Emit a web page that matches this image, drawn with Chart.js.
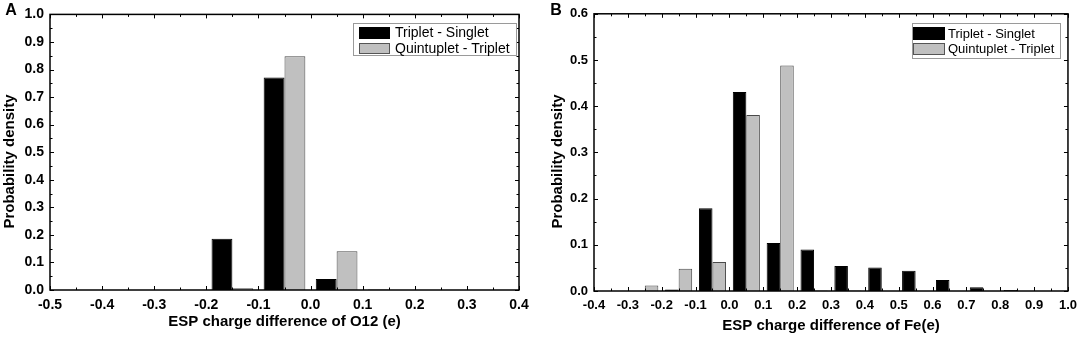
<!DOCTYPE html>
<html><head><meta charset="utf-8">
<script src="https://cdn.jsdelivr.net/npm/chart.js@4.4.0/dist/chart.umd.min.js"></script>
<style>
html,body{margin:0;padding:0;background:#fff;}
#wrap{position:relative;width:1084px;height:338px;overflow:hidden;background:#fff;}
canvas{position:absolute;top:0;}
#ca{left:0;} #cb{left:544px;}
</style></head><body>
<div id="wrap"><canvas id="ca" width="540" height="338"></canvas><canvas id="cb" width="540" height="338"></canvas></div>
<script>
// ---- Panel A data ----
const binsA = [-0.45, -0.35, -0.25, -0.15, -0.05, 0.05, 0.15, 0.25, 0.35];
const tripletSingletA = [0, 0, 0, 0.186, 0.771, 0.040, 0.002, 0, 0];
const quintupletTripletA = [0, 0, 0, 0.006, 0.848, 0.141, 0, 0, 0];
const xTicksA = ['-0.5', '-0.4', '-0.3', '-0.2', '-0.1', '0.0', '0.1', '0.2', '0.3', '0.4'];
const yTicksA = ['0.0', '0.1', '0.2', '0.3', '0.4', '0.5', '0.6', '0.7', '0.8', '0.9', '1.0'];

// ---- Panel B data ----
const binsB = [-0.35, -0.25, -0.15, -0.05, 0.05, 0.15, 0.25, 0.35, 0.45, 0.55, 0.65, 0.75, 0.85, 0.95];
const tripletSingletB = [0, 0, 0.003, 0.179, 0.431, 0.104, 0.090, 0.054, 0.051, 0.044, 0.024, 0.008, 0.002, 0];
const quintupletTripletB = [0, 0.012, 0.048, 0.063, 0.381, 0.488, 0.001, 0.001, 0, 0, 0, 0, 0, 0];
const xTicksB = ['-0.4', '-0.3', '-0.2', '-0.1', '0.0', '0.1', '0.2', '0.3', '0.4', '0.5', '0.6', '0.7', '0.8', '0.9', '1.0'];
const yTicksB = ['0.0', '0.1', '0.2', '0.3', '0.4', '0.5', '0.6'];

const seriesNames = ['Triplet - Singlet', 'Quintuplet - Triplet'];
const FAM = 'Arial, "Liberation Sans", Helvetica, sans-serif';

function makeChart(id, c) {
  const xv = c.xTicks.map(parseFloat);
  const yv = c.yTicks.map(parseFloat);
  const g = c.geom;
  const framePlugin = {
    id: 'frame' + id,
    afterDatasetsDraw(chart) {
      const ctx = chart.ctx;
      const {left, right, top, bottom} = chart.chartArea;
      const xs = chart.scales.x, ys = chart.scales.y;
      ctx.save();
      ctx.strokeStyle = '#000';
      ctx.lineWidth = 1.5;
      ctx.strokeRect(left, top, right - left, bottom - top);
      ctx.lineWidth = 1;
      ctx.beginPath();
      const maj = 4, mnr = 2.5;
      xv.forEach((v, i) => {
        const p = Math.round(xs.getPixelForValue(v)) + 0.5;
        ctx.moveTo(p, bottom); ctx.lineTo(p, bottom - maj);
        ctx.moveTo(p, top); ctx.lineTo(p, top + maj);
        if (i < xv.length - 1) {
          const q = Math.round(xs.getPixelForValue((v + xv[i + 1]) / 2)) + 0.5;
          ctx.moveTo(q, bottom); ctx.lineTo(q, bottom - mnr);
          ctx.moveTo(q, top); ctx.lineTo(q, top + mnr);
        }
      });
      yv.forEach((v, i) => {
        const p = Math.round(ys.getPixelForValue(v)) + 0.5;
        ctx.moveTo(left, p); ctx.lineTo(left + maj, p);
        ctx.moveTo(right, p); ctx.lineTo(right - maj, p);
        if (i < yv.length - 1) {
          const q = Math.round(ys.getPixelForValue((v + yv[i + 1]) / 2)) + 0.5;
          ctx.moveTo(left, q); ctx.lineTo(left + mnr, q);
          ctx.moveTo(right, q); ctx.lineTo(right - mnr, q);
        }
      });
      ctx.stroke();

      // legend
      const L = c.legend;
      ctx.font = L.font + 'px ' + FAM;
      const tw = Math.max(...seriesNames.map(s => ctx.measureText(s).width));
      const bw = Math.max(L.w, L.textX + tw + 2 - L.x);
      ctx.fillStyle = '#fff';
      ctx.fillRect(L.x, L.y, bw, L.h);
      ctx.strokeStyle = '#9a9a9a';
      ctx.lineWidth = 1;
      ctx.strokeRect(L.x + 0.5, L.y + 0.5, bw, L.h);
      const fills = ['#000', '#c0c0c0'], strokes = ['#000', '#555'];
      L.rows.forEach((r, i) => {
        ctx.fillStyle = fills[i];
        ctx.fillRect(L.sx, r.y, L.sw, r.h);
        ctx.strokeStyle = strokes[i];
        ctx.strokeRect(L.sx + 0.5, r.y + 0.5, L.sw - 1, r.h - 1);
        ctx.fillStyle = '#000';
        ctx.textBaseline = 'middle';
        ctx.textAlign = 'left';
        ctx.fillText(seriesNames[i], L.textX, r.y + r.h / 2 + 0.5);
      });

      // y title
      ctx.save();
      ctx.translate(g.yTitleX, g.yTitleY);
      ctx.rotate(-Math.PI / 2);
      ctx.font = 'bold 15px ' + FAM;
      ctx.textAlign = 'center';
      ctx.textBaseline = 'middle';
      ctx.fillStyle = '#000';
      ctx.fillText(c.yTitle, 0, 0);
      ctx.restore();

      // panel letter
      ctx.font = 'bold 16px ' + FAM;
      ctx.textAlign = 'center';
      ctx.textBaseline = 'middle';
      ctx.fillStyle = '#000';
      ctx.fillText(c.letter, g.letterX, g.letterY);
      ctx.restore();
    }
  };

  return new Chart(document.getElementById(id), {
    type: 'bar',
    data: {
      datasets: [
        {label: seriesNames[0], data: c.bins.map((x, i) => ({x: x, y: c.s1[i]})),
         backgroundColor: '#000', borderColor: '#000', borderWidth: 1},
        {label: seriesNames[1], data: c.bins.map((x, i) => ({x: x, y: c.s2[i]})),
         backgroundColor: '#c0c0c0', borderColor: '#4a4a4a', borderWidth: 1}
      ]
    },
    options: {
      responsive: false, animation: false, devicePixelRatio: 1,
      layout: {padding: {top: g.top, right: g.right, left: 0, bottom: 0}},
      datasets: {bar: {categoryPercentage: 0.8, barPercentage: 1.0, grouped: true}},
      plugins: {legend: {display: false}, tooltip: {enabled: false}},
      scales: {
        x: {
          type: 'linear', offset: false, min: xv[0], max: xv[xv.length - 1],
          grid: {display: false, drawTicks: false}, border: {display: false},
          afterBuildTicks: s => { s.ticks = xv.map(v => ({value: v})); },
          ticks: {callback: (v, i) => c.xTicks[i], color: '#000', autoSkip: false, maxRotation: 0,
                  font: {family: FAM, size: c.tickSize, weight: 'bold'}, padding: g.xTickPad},
          title: {display: true, text: c.xTitle, color: '#000',
                  font: {family: FAM, size: 15, weight: 'bold'}, padding: {top: 0, bottom: g.xTitlePad}},
          afterFit: s => { s.height = g.xh; }
        },
        y: {
          type: 'linear', min: yv[0], max: yv[yv.length - 1],
          grid: {display: false, drawTicks: false}, border: {display: false},
          afterBuildTicks: s => { s.ticks = yv.map(v => ({value: v})); },
          ticks: {callback: (v, i) => c.yTicks[i], color: '#000', autoSkip: false,
                  font: {family: FAM, size: c.tickSize, weight: 'bold'}, padding: 6},
          afterFit: s => { s.width = g.yw; }
        }
      }
    },
    plugins: [framePlugin]
  });
}

makeChart('ca', {
  bins: binsA, s1: tripletSingletA, s2: quintupletTripletA,
  xTicks: xTicksA, yTicks: yTicksA, tickSize: 14,
  xTitle: 'ESP charge difference of O12 (e)', yTitle: 'Probability density', letter: 'A',
  geom: {top: 10, right: 21, yw: 50, xh: 48, xTitlePad: 7, xTickPad: 7,
         yTitleX: 10, yTitleY: 161.5, letterX: 11, letterY: 11},
  legend: {x: 353, y: 23, w: 163, h: 32, sx: 359, sw: 31, textX: 395, font: 14,
           rows: [{y: 27, h: 12}, {y: 43, h: 11}]}
});

makeChart('cb', {
  bins: binsB, s1: tripletSingletB, s2: quintupletTripletB,
  xTicks: xTicksB, yTicks: yTicksB, tickSize: 13,
  xTitle: 'ESP charge difference of Fe(e)', yTitle: 'Probability density', letter: 'B',
  geom: {top: 10, right: 12, yw: 50, xh: 47, xTitlePad: 3, xTickPad: 7,
         yTitleX: 13.5, yTitleY: 161.5, letterX: 12, letterY: 11},
  legend: {x: 368, y: 23, w: 148, h: 35, sx: 369, sw: 32, textX: 404, font: 13,
           rows: [{y: 27, h: 13}, {y: 43, h: 12}]}
});
</script>
</body></html>
